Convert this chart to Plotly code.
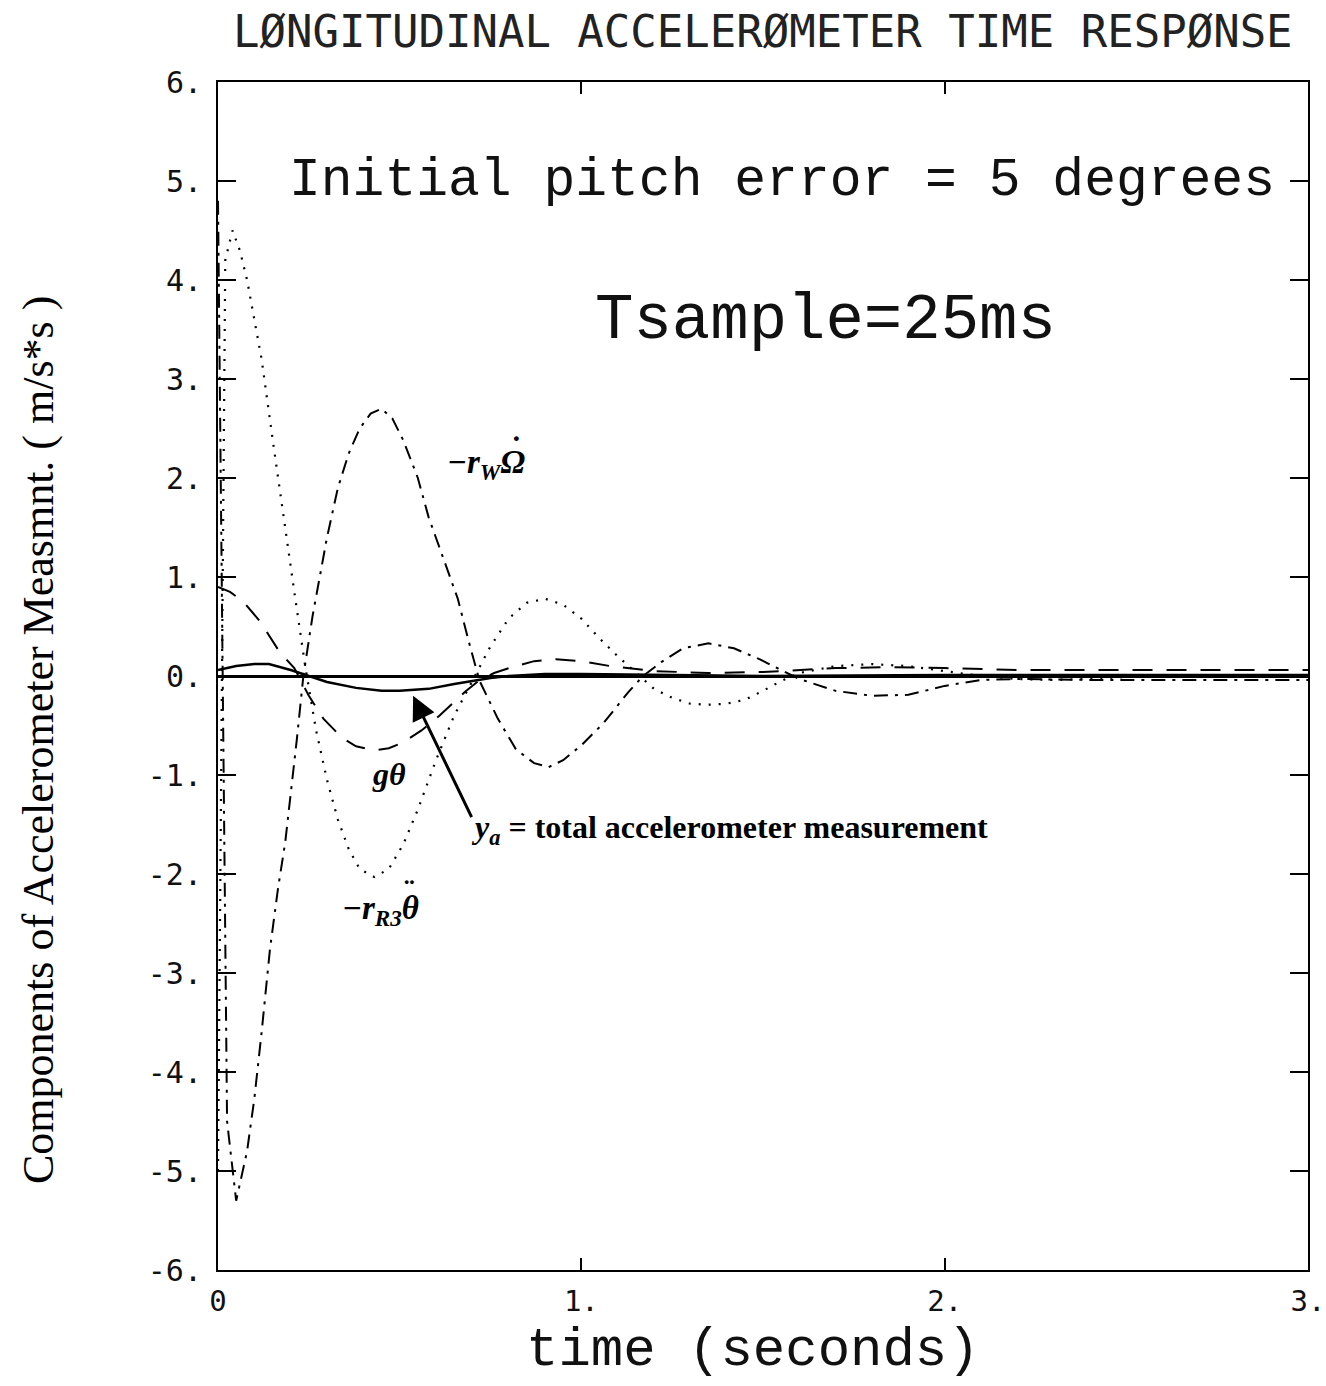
import plotly.graph_objects as go

# ---- data ----
t_rr3 = [0, 0.02, 0.04, 0.06, 0.08, 0.10, 0.12, 0.15, 0.18, 0.21, 0.24, 0.27, 0.30, 0.33,
         0.36, 0.39, 0.43, 0.47, 0.51, 0.55, 0.60, 0.65, 0.70, 0.75, 0.80, 0.85, 0.90, 0.95,
         1.00, 1.05, 1.10, 1.15, 1.20, 1.25, 1.30, 1.35, 1.40, 1.45, 1.50, 1.55, 1.60, 1.70,
         1.80, 1.90, 2.00, 2.10, 2.20, 2.30, 2.40, 2.60, 2.80, 3.00]
v_rr3 = [-5.0, 4.2, 4.5, 4.3, 4.0, 3.6, 3.2, 2.4, 1.6, 0.85, 0.1, -0.55, -1.05, -1.45,
         -1.75, -1.95, -2.03, -1.95, -1.7, -1.35, -0.85, -0.4, -0.05, 0.3, 0.58, 0.74, 0.78, 0.72,
         0.58, 0.38, 0.2, 0.03, -0.13, -0.22, -0.28, -0.29, -0.28, -0.24, -0.15, -0.05, 0.03, 0.1,
         0.12, 0.1, 0.05, 0.0, -0.03, -0.04, -0.03, 0.01, 0.01, 0.0]

t_rw = [0, 0.025, 0.05, 0.065, 0.08, 0.10, 0.12, 0.143, 0.165, 0.185, 0.20, 0.217, 0.235, 0.26,
        0.28, 0.30, 0.33, 0.36, 0.39, 0.42, 0.45, 0.48, 0.51, 0.55, 0.58, 0.62, 0.66, 0.69,
        0.72, 0.77, 0.82, 0.87, 0.91, 0.95, 1.00, 1.06, 1.13, 1.17, 1.22, 1.28, 1.35, 1.42,
        1.49, 1.55, 1.60, 1.70, 1.80, 1.90, 2.00, 2.10, 2.20, 2.40, 2.60, 2.80, 3.00]
v_rw = [4.8, -4.5, -5.3, -5.06, -4.8, -4.27, -3.6, -2.76, -2.15, -1.68, -1.2, -0.64, 0.0, 0.6,
        1.0, 1.4, 1.9, 2.25, 2.5, 2.65, 2.7, 2.6, 2.38, 2.0, 1.6, 1.18, 0.78, 0.35,
        -0.05, -0.43, -0.74, -0.88, -0.92, -0.85, -0.7, -0.48, -0.16, 0.0, 0.14, 0.28, 0.33, 0.28,
        0.17, 0.06, -0.03, -0.15, -0.2, -0.19, -0.1, -0.04, -0.03, -0.04, -0.04, -0.04, -0.04]

t_gth = [0, 0.033, 0.07, 0.116, 0.17, 0.21, 0.25, 0.29, 0.34, 0.38, 0.43, 0.47, 0.51, 0.56,
         0.61, 0.68, 0.72, 0.76, 0.81, 0.87, 0.93, 1.00, 1.08, 1.20, 1.35, 1.50, 1.70, 1.85,
         2.00, 2.20, 2.50, 2.80, 3.00]
v_gth = [0.9, 0.85, 0.75, 0.55, 0.24, 0.08, -0.2, -0.43, -0.62, -0.71, -0.75, -0.73, -0.67, -0.55,
         -0.4, -0.16, -0.04, 0.03, 0.09, 0.15, 0.17, 0.15, 0.1, 0.05, 0.03, 0.04, 0.08, 0.09,
         0.08, 0.06, 0.06, 0.06, 0.06]

t_ya = [0, 0.05, 0.10, 0.14, 0.20, 0.25, 0.30, 0.38, 0.45, 0.50, 0.58, 0.65, 0.70, 0.75,
        0.80, 0.90, 1.00, 1.20, 1.50, 2.00, 3.00]
v_ya = [0.06, 0.1, 0.12, 0.12, 0.06, 0.0, -0.06, -0.12, -0.15, -0.15, -0.13, -0.08, -0.05, -0.02,
        0.0, 0.02, 0.02, 0.01, 0.0, 0.01, 0.01]

y_ticks = [6, 5, 4, 3, 2, 1, 0, -1, -2, -3, -4, -5, -6]
y_tick_text = ["6.", "5.", "4.", "3.", "2.", "1.", "0.", "-1.", "-2.", "-3.", "-4.", "-5.", "-6."]
x_ticks = [0, 1, 2, 3]
x_tick_text = ["0", "1.", "2.", "3."]

fig = go.Figure()
fig.add_trace(go.Scatter(x=t_rr3, y=v_rr3, mode="lines",
                         line=dict(color="black", width=2.2, dash="2px,8px")))
fig.add_trace(go.Scatter(x=t_rw, y=v_rw, mode="lines",
                         line=dict(color="black", width=2, dash="14px,7px,3px,7px")))
fig.add_trace(go.Scatter(x=t_gth, y=v_gth, mode="lines",
                         line=dict(color="black", width=2, dash="20px,14px")))
fig.add_trace(go.Scatter(x=t_ya, y=v_ya, mode="lines",
                         line=dict(color="black", width=2.5)))

mono = "DejaVu Sans Mono"
courier = "Liberation Mono"
serif = "Liberation Serif"

fig.update_layout(
    width=1326, height=1386, autosize=False,
    margin=dict(l=218, r=18, t=82, b=116),
    paper_bgcolor="white", plot_bgcolor="white",
    showlegend=False,
    xaxis=dict(range=[0, 3], tickvals=x_ticks, ticktext=x_tick_text,
               ticks="inside", ticklen=12, tickwidth=2, tickcolor="black",
               showline=True, linecolor="black", linewidth=2, mirror="ticks",
               showgrid=False, zeroline=False, ticklabelstandoff=4,
               ticklabeloverflow="allow", automargin=False,
               tickfont=dict(family=mono, size=29, color="#111")),
    yaxis=dict(range=[-6, 6], tickvals=y_ticks, ticktext=y_tick_text,
               ticks="inside", ticklen=18, tickwidth=2, tickcolor="black",
               showline=True, linecolor="black", linewidth=2, mirror="ticks",
               showgrid=False, zeroline=True, zerolinecolor="black", zerolinewidth=2.5,
               ticklabelstandoff=8, automargin=False,
               tickfont=dict(family=mono, size=30, color="#111")),
)

ann = []
ann.append(dict(text="LØNGITUDINAL ACCELERØMETER TIME RESPØNSE", xref="paper", yref="paper",
                x=(763 - 218) / 1090, y=(1270 - 32) / 1188, showarrow=False,
                xanchor="center", yanchor="middle",
                font=dict(family=mono, size=44, color="#222")))
ann.append(dict(text="Components of Accelerometer Measmnt. ( m/s*s )", xref="paper", yref="paper",
                x=(38 - 218) / 1090, y=(1270 - 740) / 1188, showarrow=False, textangle=-90,
                xanchor="center", yanchor="middle",
                font=dict(family=serif, size=44, color="black")))
ann.append(dict(text="time (seconds)", xref="paper", yref="paper",
                x=(753 - 218) / 1090, y=(1270 - 1350) / 1188, showarrow=False,
                xanchor="center", yanchor="middle",
                font=dict(family=courier, size=54, color="#111")))
ann.append(dict(text="Initial pitch error = 5 degrees", x=1.553, y=5.0, showarrow=False,
                xanchor="center", yanchor="middle",
                font=dict(family=courier, size=53, color="#111")))
ann.append(dict(text="Tsample=25ms", x=1.671, y=3.59, showarrow=False,
                xanchor="center", yanchor="middle",
                font=dict(family=courier, size=64, color="#111")))
# math labels
ann.append(dict(text="<b><i>−r<sub>W</sub>Ω</i></b>", x=0.625, y=2.14, showarrow=False,
                xanchor="left", yanchor="middle",
                font=dict(family=serif, size=33, color="black")))
ann.append(dict(text="<b>˙</b>", x=0.822, y=2.31, showarrow=False,
                xanchor="center", yanchor="middle",
                font=dict(family=serif, size=32, color="black")))
ann.append(dict(text="<b><i>gθ</i></b>", x=0.418, y=-0.99, showarrow=False,
                xanchor="left", yanchor="middle",
                font=dict(family=serif, size=32, color="black")))
ann.append(dict(text="<b><i>−r<sub>R3</sub>θ</i></b>", x=0.336, y=-2.37, showarrow=False,
                xanchor="left", yanchor="middle",
                font=dict(family=serif, size=33, color="black")))
ann.append(dict(text="<b>¨</b>", x=0.528, y=-2.17, showarrow=False,
                xanchor="center", yanchor="middle",
                font=dict(family=serif, size=32, color="black")))
ann.append(dict(text="<b><i>y<sub>a</sub></i> = total accelerometer measurement</b>", x=0.69, y=-1.55,
                showarrow=False, xanchor="left", yanchor="middle",
                font=dict(family=serif, size=32, color="black")))
ann.append(dict(text="", x=0.537, y=-0.2, ax=0.70, ay=-1.44, axref="x", ayref="y",
                showarrow=True, arrowhead=2, arrowsize=1.6, arrowwidth=3, arrowcolor="black"))
fig.update_layout(annotations=ann)

fig.write_html("out.html", config={"responsive": False},
               post_script="document.documentElement.style.overflow='hidden';"
                           "document.body.style.overflow='hidden';document.body.style.margin='0';")
